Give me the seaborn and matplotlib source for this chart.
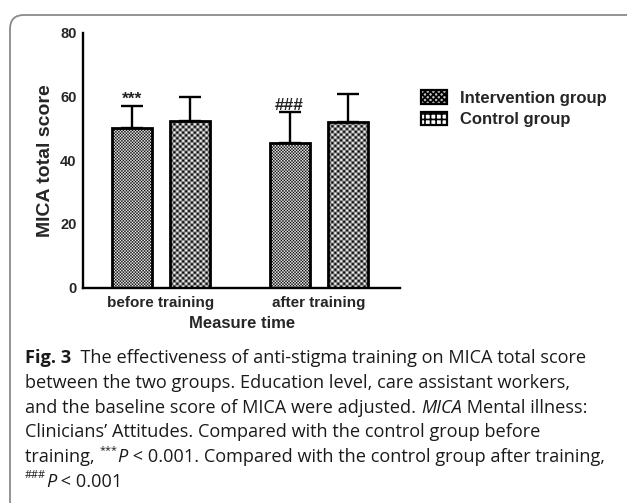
import numpy as np
import pandas as pd
import matplotlib
matplotlib.use("Agg")
import matplotlib.pyplot as plt
import seaborn as sns
from matplotlib.patches import Patch, FancyBboxPatch

# data
times = ["before training", "after training"]
groups = ["Intervention group", "Control group"]
mean_intervention = [50.0, 45.5]
mean_control = [52.4, 52.0]
sd_intervention = [7.0, 9.7]
sd_control = [7.5, 8.9]
marks = ["***", "###"]

df = pd.DataFrame({
    "time": times * 2,
    "group": [groups[0]] * 2 + [groups[1]] * 2,
    "score": mean_intervention + mean_control,
})

sns.set_style("white")
plt.rcParams["font.family"] = ["Liberation Sans", "DejaVu Sans"]
plt.rcParams["hatch.linewidth"] = 1.2

fig = plt.figure(figsize=(6.27, 5.03), dpi=100)
ax = fig.add_axes([0.133, 0.428, 0.505, 0.507])

sns.barplot(data=df, x="time", y="score", hue="group", order=times, hue_order=groups,
            width=0.74, gap=0.316, palette=["white", "white"],
            edgecolor="black", linewidth=2.0, legend=False, errorbar=None, ax=ax)

ax.set_xlim(-0.49, 1.513)
ax.set_ylim(0, 80)
ax.set_yticks([0, 20, 40, 60, 80])

# error bars (upper only) and significance marks
for cont, means, sds in zip(ax.containers, [mean_intervention, mean_control],
                            [sd_intervention, sd_control]):
    xs = [p.get_x() + p.get_width() / 2 for p in cont.patches]
    ax.errorbar(xs, means, yerr=[np.zeros(len(sds)), sds], fmt="none", ecolor="black",
                elinewidth=1.7, capsize=8, capthick=1.7, zorder=1.5)
    if means is mean_intervention:
        for x, m, s, mk in zip(xs, means, sds, marks):
            ax.text(x, m + s - 0.3, mk, ha="center", va="bottom", fontsize=12.5,
                    fontweight="bold", color="#222222")

# checkerboard fill clipped to bars
fig.canvas.draw()
for cont, sq in zip(ax.containers, [1.5, 2.8]):
    for p in cont.patches:
        x0, y0, w, h = p.get_x(), p.get_y(), p.get_width(), p.get_height()
        (a0, b0), (a1, b1) = ax.transData.transform([(x0, y0), (x0 + w, y0 + h)])
        nx = max(1, int(round((a1 - a0) / sq)))
        ny = max(1, int(round((b1 - b0) / sq)))
        board = np.add.outer(np.arange(ny), np.arange(nx)) % 2
        im = ax.imshow(board, cmap="gray", extent=(x0, x0 + w, y0, y0 + h),
                       aspect="auto", interpolation="antialiased", zorder=1)
        im.set_clip_path(p)
        p.set_facecolor("none")
        p.set_zorder(2)
ax.set_xlim(-0.49, 1.513)
ax.set_ylim(0, 80)

for s in ["top", "right"]:
    ax.spines[s].set_visible(False)
for s in ["left", "bottom"]:
    ax.spines[s].set_linewidth(1.7)
    ax.spines[s].set_color("black")
ax.tick_params(axis="both", direction="out", length=4, width=1.7, color="black", pad=1)
ax.tick_params(axis="y", labelsize=10.5)
ax.tick_params(axis="x", labelsize=11, pad=2)
for lab in ax.get_xticklabels() + ax.get_yticklabels():
    lab.set_fontweight("bold")
ax.set_xlabel("Measure time", fontsize=12, fontweight="bold", labelpad=4)
ax.set_ylabel("MICA total score", fontsize=14, fontweight="bold", labelpad=4)

handles = [Patch(facecolor="#bdbdbd", edgecolor="black", hatch="xxxxxx", linewidth=1.6),
           Patch(facecolor="white", edgecolor="black", hatch="+++", linewidth=1.6)]
fig.legend(handles, groups, loc="upper left", bbox_to_anchor=(0.648, 0.85),
           frameon=False, prop={"weight": "bold", "size": 12},
           handlelength=1.55, handleheight=0.85, handletextpad=0.8, labelspacing=0.35)

# rounded frame around figure + caption
frame = FancyBboxPatch((10, -30), 660, 503 - 15 + 30, boxstyle="round,pad=0,rounding_size=14",
                       transform=None, facecolor="none", edgecolor="#8a8a8a", linewidth=1.3)
fig.patches.append(frame)

cap_font = ["Open Sans", "DejaVu Sans"]
cap_size = 13.1
renderer = fig.canvas.get_renderer()


def run_width(txt, **kw):
    t1 = fig.text(0, 0, txt + ".", family=cap_font, **kw)
    t2 = fig.text(0, 0, ".", family=cap_font, **kw)
    w = t1.get_window_extent(renderer).width - t2.get_window_extent(renderer).width
    t1.remove()
    t2.remove()
    return w


def put_line(y_px, runs):
    x = 25.0
    for txt, style in runs:
        kw = {"fontsize": cap_size, "color": "#1a1a1a"}
        dy = 0
        if style == "bold":
            kw["fontweight"] = "bold"
        elif style == "italic":
            kw["fontstyle"] = "italic"
        elif style == "sup":
            kw["fontsize"] = cap_size * 0.6
            dy = 6
        fig.text(x / 627, 1 - (y_px - dy) / 503, txt, family=cap_font,
                 va="center_baseline", ha="left", **kw)
        x += run_width(txt, **kw)


caption = [
    [("Fig. 3", "bold"), ("  The effectiveness of anti-stigma training on MICA total score", "n")],
    [("between the two groups. Education level, care assistant workers,", "n")],
    [("and the baseline score of MICA were adjusted. ", "n"), ("MICA", "italic"),
     (" Mental illness:", "n")],
    [("Clinicians\u2019 Attitudes. Compared with the control group before", "n")],
    [("training, ", "n"), ("***", "sup"), ("P", "italic"),
     (" < 0.001. Compared with the control group after training,", "n")],
    [("###", "sup"), ("P", "italic"), (" < 0.001", "n")],
]
for i, line in enumerate(caption):
    put_line(356 + i * 24.8, line)

fig.savefig("out.png", dpi=100)
